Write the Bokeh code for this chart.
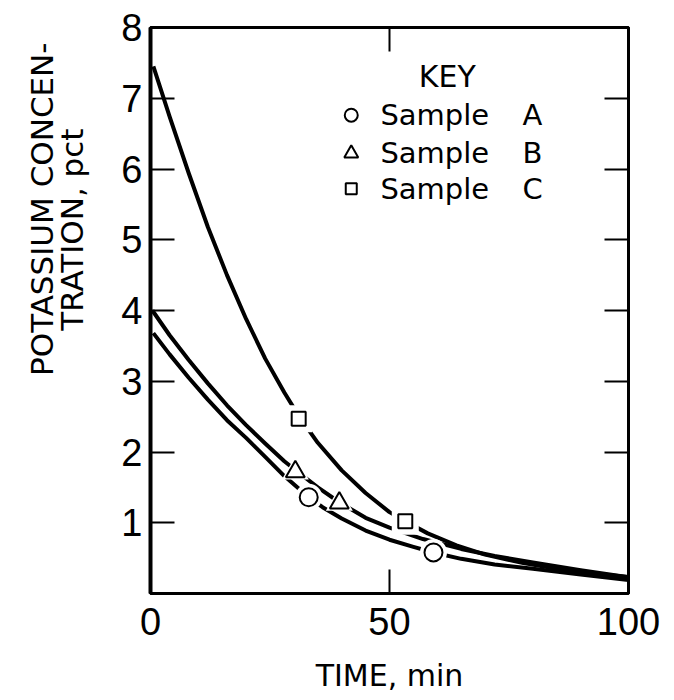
from bokeh.plotting import figure
from bokeh.models import FixedTicker, LinearAxis, Range1d, Title
from bokeh.embed import file_html
from bokeh.resources import INLINE
from bokeh.core.properties import value

# ---- data ----
# fitted curves (time in min, potassium concentration in pct)
curve_a_x = [0.6, 4, 8, 12, 16, 20, 24, 28, 33.1, 36, 40, 45, 50, 55, 59.2, 65, 72, 80, 90, 100]
curve_a_y = [3.68, 3.38, 3.05, 2.74, 2.45, 2.20, 1.93, 1.66, 1.36, 1.22, 1.06, 0.89, 0.76, 0.66, 0.58, 0.49, 0.41, 0.35, 0.27, 0.19]

curve_b_x = [0.4, 4, 8, 12, 16, 20, 24, 28, 30.3, 35, 39.5, 45, 50, 57, 65, 72, 80, 90, 100]
curve_b_y = [4.0, 3.65, 3.30, 2.97, 2.66, 2.38, 2.12, 1.87, 1.745, 1.50, 1.29, 1.07, 0.93, 0.77, 0.63, 0.53, 0.44, 0.33, 0.23]

curve_c_x = [0.6, 4, 8, 12, 16, 20, 24, 28, 31, 35, 40, 45, 50, 53.3, 58, 64, 70, 78, 86, 93, 100]
curve_c_y = [7.45, 6.74, 5.94, 5.18, 4.50, 3.88, 3.32, 2.84, 2.51, 2.13, 1.74, 1.42, 1.15, 1.02, 0.85, 0.68, 0.55, 0.43, 0.34, 0.28, 0.235]

# measured samples
sample_a_x = [33.1, 59.2]
sample_a_y = [1.36, 0.58]
sample_b_x = [30.3, 39.5]
sample_b_y = [1.72, 1.28]
sample_c_x = [31.0, 53.3]
sample_c_y = [2.47, 1.02]

x_ticks = [0, 50, 100]
y_ticks = [1, 2, 3, 4, 5, 6, 7, 8]
legend_names = ["Sample", "Sample", "Sample"]
legend_letters = ["A", "B", "C"]
legend_markers = ["circle", "triangle", "square"]

# ---- figure ----
p = figure(frame_width=478, frame_height=566,
           min_border_left=150, min_border_right=40,
           min_border_top=27, min_border_bottom=105,
           x_range=Range1d(0, 100), y_range=Range1d(0, 8),
           output_backend="svg", toolbar_location=None)
p.grid.visible = False
p.outline_line_color = "black"
p.outline_line_width = 3
p.background_fill_color = "white"
p.border_fill_color = "white"

TICK_FONT = "Liberation Sans"
TEXT_FONT = "DejaVu Sans"

for ax in p.xaxis:
    ax.ticker = FixedTicker(ticks=x_ticks)
for ax in p.yaxis:
    ax.ticker = FixedTicker(ticks=y_ticks)

for ax in list(p.xaxis) + list(p.yaxis):
    ax.axis_line_width = 3
    ax.axis_line_color = "black"
    ax.major_tick_in = 24
    ax.major_tick_out = 0
    ax.major_tick_line_width = 2
    ax.minor_tick_line_color = None
    ax.major_label_text_font = TICK_FONT
    ax.major_label_text_font_size = "38px"
    ax.major_label_text_color = "black"
p.yaxis.axis_line_width = 4
p.yaxis.major_label_standoff = 8
p.xaxis.major_label_standoff = 14

p.xaxis.axis_label = "TIME, min"
p.xaxis.axis_label_text_font = TEXT_FONT
p.xaxis.axis_label_text_font_size = "30px"
p.xaxis.axis_label_text_font_style = "normal"
p.xaxis.axis_label_text_color = "black"
p.xaxis.axis_label_standoff = 20

# inner ticks on the right and top edges (no labels)
right_ax = LinearAxis(ticker=FixedTicker(ticks=y_ticks[:-1]),
                      major_tick_in=24, major_tick_out=0, major_tick_line_width=2,
                      minor_tick_line_color=None, axis_line_width=3,
                      major_label_overrides={t: "" for t in y_ticks[:-1]},
                      major_label_standoff=0)
p.add_layout(right_ax, "right")
top_ax = LinearAxis(ticker=FixedTicker(ticks=[x_ticks[1]]),
                    major_tick_in=24, major_tick_out=0, major_tick_line_width=2,
                    minor_tick_line_color=None, axis_line_width=3,
                    major_label_overrides={x_ticks[1]: ""},
                    major_label_standoff=0)
p.add_layout(top_ax, "above")

# y-axis title in two lines (closest line added first)
p.add_layout(Title(text="TRATION, pct", align="right", offset=101, standoff=58,
                   text_font=TEXT_FONT, text_font_size="31px",
                   text_font_style="normal", text_color="black"), "left")
p.add_layout(Title(text="POTASSIUM CONCEN-", align="right", offset=15, standoff=-74,
                   text_font=TEXT_FONT, text_font_size="31px",
                   text_font_style="normal", text_color="black"), "left")

# curves
for cx, cy in [(curve_a_x, curve_a_y), (curve_b_x, curve_b_y), (curve_c_x, curve_c_y)]:
    p.line(cx, cy, line_width=4, line_color="black", line_join="round")

# white halos to break the curves around the markers
for sx, sy, mk in [(sample_a_x, sample_a_y, "circle"),
                   (sample_b_x, sample_b_y, "triangle"),
                   (sample_c_x, sample_c_y, "square")]:
    p.scatter(sx, sy, marker=mk, size=27, fill_color="white", line_color=None)

p.scatter(sample_a_x, sample_a_y, marker="circle", size=18,
          fill_color="white", line_color="black", line_width=2)
p.scatter(sample_b_x, sample_b_y, marker="triangle", size=19,
          fill_color="white", line_color="black", line_width=2)
p.scatter(sample_c_x, sample_c_y, marker="square", size=14,
          fill_color="white", line_color="black", line_width=2)

# key
key_rows_y = [6.76, 6.22, 5.72]
p.text(x=[62.1], y=[7.31], text=["KEY"], text_font=value(TEXT_FONT),
       text_font_size="30px", text_align="center", text_baseline="middle",
       text_color="black")
for mk, yy, sz in zip(legend_markers, key_rows_y, [13, 14, 11]):
    p.scatter([42.0], [yy], marker=mk, size=sz, fill_color="white",
              line_color="black", line_width=2)
p.text(x=[48.1] * 3, y=key_rows_y, text=legend_names, text_font=value(TEXT_FONT),
       text_font_size="29px", text_align="left", text_baseline="middle",
       text_color="black")
p.text(x=[77.8] * 3, y=key_rows_y, text=legend_letters, text_font=value(TEXT_FONT),
       text_font_size="29px", text_align="left", text_baseline="middle",
       text_color="black")

open("out.html", "w").write(file_html(p, INLINE))
